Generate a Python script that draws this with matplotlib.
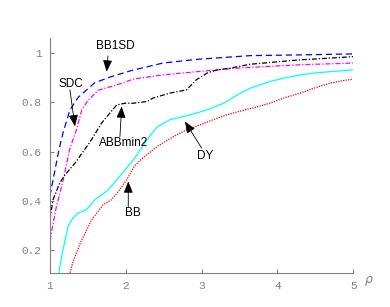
import numpy as np
import matplotlib
matplotlib.use('Agg')
import matplotlib.pyplot as plt
from matplotlib.ticker import FuncFormatter

# performance profile data
bb1sd_x = [1.0, 1.05, 1.12, 1.175, 1.264, 1.37, 1.59, 1.81, 2.08, 2.49, 2.94, 3.64, 4.3, 5.0]
bb1sd_y = [0.42, 0.5, 0.61, 0.68, 0.77, 0.82, 0.88, 0.905, 0.93, 0.96, 0.975, 0.99, 0.993, 0.997]

sdc_x = [1.0, 1.08, 1.175, 1.26, 1.35, 1.42, 1.505, 1.64, 1.81, 1.95, 2.1, 2.49, 2.94, 3.5, 4.3, 5.0]
sdc_y = [0.24, 0.37, 0.486, 0.61, 0.69, 0.77, 0.81, 0.85, 0.865, 0.878, 0.895, 0.912, 0.925, 0.94, 0.953, 0.96]

abb_x = [1.0, 1.04, 1.13, 1.2, 1.33, 1.46, 1.55, 1.68, 1.79, 1.88, 1.99, 2.1, 2.28, 2.36,
         2.58, 2.8, 2.93, 3.07, 3.2, 3.37, 3.64, 4.0, 4.3, 4.7, 5.0]
abb_y = [0.324, 0.405, 0.474, 0.507, 0.554, 0.61, 0.65, 0.716, 0.757, 0.79, 0.797, 0.797, 0.804, 0.818,
         0.838, 0.851, 0.892, 0.919, 0.932, 0.939, 0.955, 0.965, 0.973, 0.98, 0.986]

dy_x = [1.1, 1.17, 1.24, 1.3, 1.37, 1.48, 1.59, 1.68, 1.77, 1.88, 1.99, 2.12, 2.28, 2.41,
        2.58, 2.76, 2.93, 3.07, 3.29, 3.51, 3.64, 3.9, 4.1, 4.3, 4.5, 4.69, 5.0]
dy_y = [0.08, 0.2, 0.297, 0.33, 0.351, 0.365, 0.405, 0.425, 0.446, 0.486, 0.527, 0.575, 0.649, 0.7,
        0.73, 0.743, 0.757, 0.77, 0.797, 0.838, 0.858, 0.885, 0.9, 0.912, 0.92, 0.925, 0.932]

bb_x = [1.25, 1.3, 1.4, 1.55, 1.7, 1.75, 1.81, 1.92, 2.01, 2.12, 2.23, 2.41, 2.63, 2.8, 2.98,
        3.15, 3.33, 3.51, 3.7, 3.9, 4.1, 4.3, 4.5, 4.69, 4.85, 5.0]
bb_y = [0.09, 0.15, 0.23, 0.324, 0.385, 0.395, 0.405, 0.446, 0.486, 0.545, 0.576, 0.621, 0.662, 0.689, 0.709,
        0.73, 0.75, 0.765, 0.78, 0.797, 0.82, 0.838, 0.86, 0.878, 0.888, 0.895]

# label text, text position, arrow tail, arrow tip
labels = ['BB1SD', 'SDC', 'ABBmin2', 'DY', 'BB']
label_pos = [(1.858, 1.03), (1.273, 0.876), (1.976, 0.635), (3.045, 0.581), (2.099, 0.351)]
arrow_tail = [(1.765, 0.989), (1.264, 0.851), (1.923, 0.662), (3.0, 0.615), (2.033, 0.378)]
arrow_tip = [(1.748, 0.925), (1.33, 0.703), (1.946, 0.784), (2.78, 0.723), (2.033, 0.48)]

fig = plt.figure(figsize=(3.9, 3.07), dpi=100)
ax = fig.add_axes([0.128, 0.112, 0.778, 0.763])

lw = 0.9
ax.plot(bb1sd_x, bb1sd_y, color='#0000ff', ls=(0, (5, 3)), lw=lw)
ax.plot(sdc_x, sdc_y, color='#ff00ff', ls=(0, (4, 1.5, 1, 1.5)), lw=lw)
ax.plot(abb_x, abb_y, color='black', ls=(0, (4, 1.5, 1, 1.5)), lw=lw)
ax.plot(dy_x, dy_y, color='#00ffff', ls='-', lw=lw)
ax.plot(bb_x, bb_y, color='#ff0000', ls=(0, (1, 1)), lw=lw)

for name, p, t0, t1 in zip(labels, label_pos, arrow_tail, arrow_tip):
    ax.text(p[0], p[1], name, ha='center', va='center', fontsize=8.5,
            family='Liberation Sans')
    ax.annotate('', xy=t1, xytext=t0,
                arrowprops=dict(arrowstyle='-|>,head_length=0.7,head_width=0.28',
                                color='black', lw=0.6, shrinkA=0, shrinkB=0))

ax.set_xlim(1, 5)
ax.set_ylim(0.11, 1.06)
ax.set_xticks([1, 2, 3, 4, 5])
ax.set_yticks([0.2, 0.4, 0.6, 0.8, 1.0])
ax.xaxis.set_major_formatter(FuncFormatter(lambda v, _: '%g' % v))
ax.yaxis.set_major_formatter(FuncFormatter(lambda v, _: '%g' % v))

gray = '#808080'
for side in ['top', 'right']:
    ax.spines[side].set_visible(False)
for side in ['left', 'bottom']:
    ax.spines[side].set_color(gray)
    ax.spines[side].set_linewidth(0.8)
ax.tick_params(direction='in', length=3, width=0.8, color=gray, labelcolor=gray,
               labelsize=8, pad=6)
for lab in ax.get_xticklabels() + ax.get_yticklabels():
    lab.set_family('Liberation Mono')

ax.text(1.05, -0.035, r'$\rho$', transform=ax.transAxes, color=gray,
        fontsize=9, ha='center', va='center')

fig.savefig('out.png', dpi=100)
